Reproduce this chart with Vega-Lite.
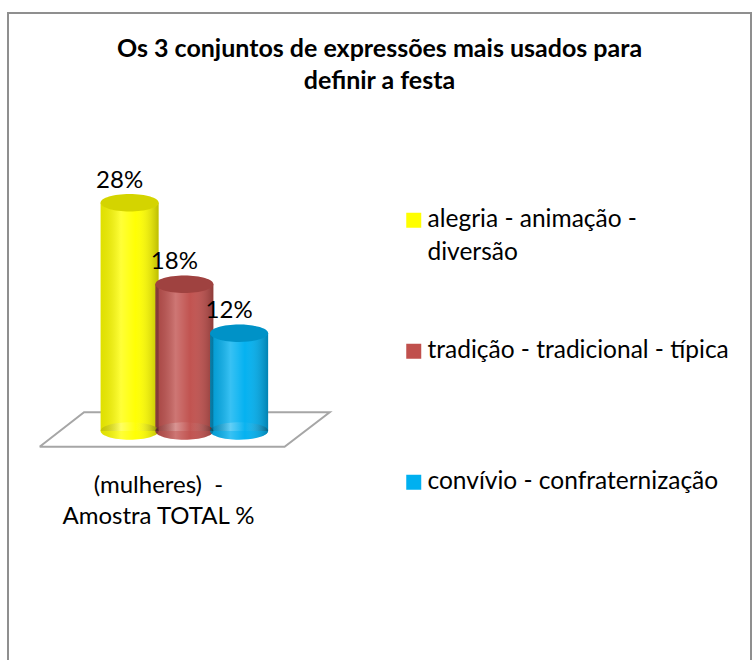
{
  "$schema": "https://vega.github.io/schema/vega-lite/v6.json",
  "width": 743,
  "height": 660,
  "autosize": {"type": "none"},
  "padding": {"left": 8, "top": 13, "right": 3, "bottom": 0},
  "background": "white",
  "config": {"view": {"stroke": "#8f8f8f", "strokeWidth": 2}, "font": "Lato"},
  "title": {
    "text": ["Os 3 conjuntos de expressões mais usados para", "definir a festa"],
    "font": "Lato", "fontSize": 25, "fontWeight": "bold", "color": "black",
    "anchor": "middle", "frame": "group", "offset": -80.5, "lineHeight": 31.5
  },
  "datasets": {
    "bars": [
      {"cat": "alegria - animação - diversão", "idx": 1, "value": 0.28},
      {"cat": "tradição - tradicional - típica", "idx": 2, "value": 0.18},
      {"cat": "convívio - confraternização", "idx": 3, "value": 0.12}
    ],
    "floor": [
      {"k": 1, "idx": -0.6432, "value": -0.01926},
      {"k": 2, "idx": 0.1676, "value": 0.02294},
      {"k": 3, "idx": 4.6541, "value": 0.02294},
      {"k": 4, "idx": 3.8306, "value": -0.01926},
      {"k": 5, "idx": -0.6432, "value": -0.01926}
    ]
  },
  "data": {"name": "bars"},
  "encoding": {
    "x": {
      "field": "idx", "type": "quantitative",
      "scale": {"domain": [-1.12973, 12.25766], "nice": false, "zero": false},
      "axis": {
        "labels": false, "ticks": false, "domain": false, "grid": false,
        "title": ["(mulheres)\u00a0 -", "Amostra TOTAL %"],
        "titleFont": "Lato", "titleFontSize": 24, "titleFontWeight": "normal", "titleColor": "black",
        "titleX": 150, "titleY": -200, "titleBaseline": "top", "titleAlign": "center", "titleLineHeight": 31.6
      }
    },
    "y": {
      "field": "value", "type": "quantitative",
      "scale": {"domain": [-0.29693, 0.51288], "nice": false, "zero": false},
      "axis": null
    },
    "color": {
      "field": "cat", "type": "nominal",
      "scale": {
        "domain": ["alegria - animação - diversão", "tradição - tradicional - típica", "convívio - confraternização"],
        "range": ["#FFFF00", "#C0504D", "#00B0F0"]
      },
      "legend": {
        "title": null, "orient": "none", "legendX": 393.5, "legendY": 195, "padding": 0,
        "symbolType": "square", "symbolSize": 225, "symbolStrokeWidth": 0, "symbolOpacity": 1,
        "labelFont": "Lato", "labelFontSize": 24.5, "labelColor": "black", "labelLimit": 500,
        "labelOffset": 1.5, "labelBaseline": "top",
        "labelExpr": "datum.label == 'alegria - animação - diversão' ? ['alegria - animação -', 'diversão'] : datum.label",
        "gridAlign": "all", "rowPadding": 73,
        "encode": {"labels": {"update": {"dy": {"value": -12}, "lineHeight": {"value": 33}}}}
      }
    }
  },
  "layer": [
    {
      "data": {"name": "floor"},
      "mark": {"type": "line", "strokeWidth": 2, "strokeJoin": "miter"},
      "encoding": {"order": {"field": "k"}, "color": {"value": "#a6a6a6"}}
    },
    {
      "mark": {"type": "bar", "width": 58},
      "encoding": {"y2": {"datum": 0}}
    },
    {
      "mark": {"type": "point", "filled": true, "opacity": 1, "strokeWidth": 0, "size": 3364,
        "shape": "M-1,0 C-1,-0.1657 -0.5523,-0.3 0,-0.3 C0.5523,-0.3 1,-0.1657 1,0 C1,0.1657 0.5523,0.3 0,0.3 C-0.5523,0.3 -1,0.1657 -1,0 Z"},
      "encoding": {"y": {"datum": 0}}
    },
    {
      "mark": {"type": "bar", "width": 58},
      "encoding": {
        "y2": {"datum": 0},
        "color": {"value": {"gradient": "linear", "x1": 0, "x2": 1, "y1": 0, "y2": 0,
          "stops": [
            {"offset": 0, "color": "rgba(0,0,0,0.12)"},
            {"offset": 0.35, "color": "rgba(255,255,255,0.22)"},
            {"offset": 0.6, "color": "rgba(255,255,255,0.02)"},
            {"offset": 1, "color": "rgba(0,0,0,0.26)"}
          ]}}
      }
    },
    {
      "mark": {"type": "point", "filled": true, "opacity": 1, "strokeWidth": 0, "size": 3364,
        "shape": "M-1,0 C-1,-0.1657 -0.5523,-0.3 0,-0.3 C0.5523,-0.3 1,-0.1657 1,0 C1,0.1657 0.5523,0.3 0,0.3 C-0.5523,0.3 -1,0.1657 -1,0 Z"},
      "encoding": {
        "y": {"datum": 0},
        "color": {"value": {"gradient": "linear", "x1": 0, "x2": 1, "y1": 0, "y2": 0,
          "stops": [
            {"offset": 0, "color": "rgba(0,0,0,0.12)"},
            {"offset": 0.35, "color": "rgba(255,255,255,0.22)"},
            {"offset": 0.6, "color": "rgba(255,255,255,0.02)"},
            {"offset": 1, "color": "rgba(0,0,0,0.26)"}
          ]}}
      }
    },
    {
      "mark": {"type": "point", "filled": true, "opacity": 1, "strokeWidth": 0, "size": 3364,
        "shape": "M-1,0 C-1,-0.1657 -0.5523,-0.3 0,-0.3 C0.5523,-0.3 1,-0.1657 1,0 C1,0.1657 0.5523,0.3 0,0.3 C-0.5523,0.3 -1,0.1657 -1,0 Z"}
    },
    {
      "mark": {"type": "point", "filled": true, "opacity": 0.17, "strokeWidth": 0, "size": 3364,
        "shape": "M-1,0 C-1,-0.1657 -0.5523,-0.3 0,-0.3 C0.5523,-0.3 1,-0.1657 1,0 C1,0.1657 0.5523,0.3 0,0.3 C-0.5523,0.3 -1,0.1657 -1,0 Z"},
      "encoding": {"color": {"value": "black"}}
    },
    {
      "mark": {"type": "text", "font": "Lato", "fontSize": 24, "dx": -10, "dy": -22, "baseline": "middle", "align": "center"},
      "encoding": {
        "text": {"field": "value", "type": "quantitative", "format": ".0%"},
        "color": {"value": "black"}
      }
    }
  ]
}
